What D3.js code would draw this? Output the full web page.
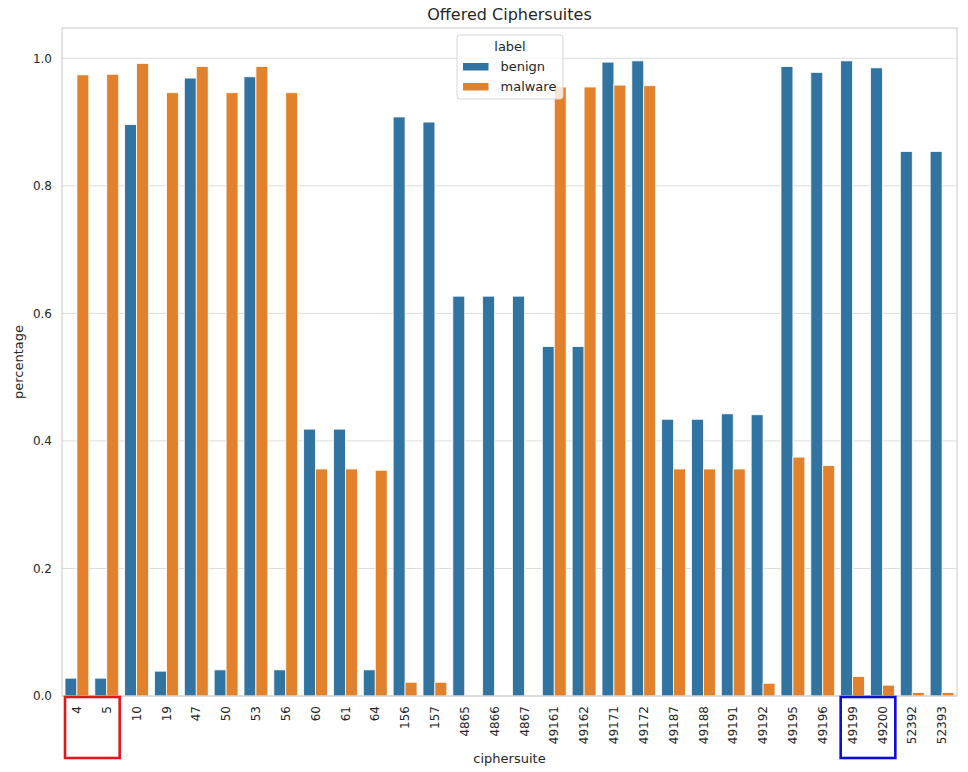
<!DOCTYPE html>
<html>
<head>
<meta charset="utf-8">
<script src="https://cdn.jsdelivr.net/npm/d3@7"></script>
<style>
  body { margin: 0; background: #fff; }
  svg { display: block; font-family: "DejaVu Sans", sans-serif; }
</style>
</head>
<body>
<svg id="chart" width="968" height="772"></svg>
<script>
const categories = ["4","5","10","19","47","50","53","56","60","61","64","156","157","4865","4866","4867","49161","49162","49171","49172","49187","49188","49191","49192","49195","49196","49199","49200","52392","52393"];
const benign  = [0.028,0.028,0.896,0.039,0.969,0.041,0.971,0.041,0.4185,0.4185,0.041,0.908,0.900,0.627,0.627,0.627,0.548,0.548,0.994,0.996,0.434,0.434,0.4425,0.441,0.987,0.978,0.996,0.985,0.854,0.854];
const malware = [0.974,0.975,0.992,0.946,0.987,0.946,0.987,0.946,0.356,0.356,0.354,0.0216,0.0216,0,0,0,0.955,0.955,0.958,0.957,0.356,0.356,0.356,0.020,0.3746,0.3615,0.0305,0.017,0.0055,0.0055];
const seriesNames = ["benign","malware"];
const seriesColors = ["#3274a1","#e1812c"];
const yTicks = [0.0,0.2,0.4,0.6,0.8,1.0];
const highlightRed = ["4","5"];
const highlightBlue = ["49199","49200"];

const svg = d3.select("#chart");
const L = 62, R = 957, T = 28, B = 696;
const textColor = "#262626";
const gridColor = "#dcdcdc";

const x = d3.scaleBand().domain(categories).range([L, R]).paddingInner(0).paddingOuter(0);
const y = d3.scaleLinear().domain([0, 1.0475]).range([B, T]);

// grid
svg.append("g").selectAll("line").data(yTicks).join("line")
  .attr("x1", L).attr("x2", R)
  .attr("y1", d => y(d)).attr("y2", d => y(d))
  .attr("stroke", gridColor).attr("stroke-width", 1);

// bars
const bw = x.bandwidth();
const groupW = bw * 0.8;
const barW = groupW / 2;
const series = [benign, malware];
series.forEach((vals, si) => {
  svg.append("g").selectAll("rect").data(categories).join("rect")
    .attr("x", (c) => x(c) + bw * 0.1 + si * barW)
    .attr("width", barW)
    .attr("y", (c, i) => y(vals[i]))
    .attr("height", (c, i) => B - y(vals[i]))
    .attr("fill", seriesColors[si])
    .attr("stroke", "#ffffff")
    .attr("stroke-width", 0.8);
});

// spines
svg.append("rect").attr("x", L).attr("y", T).attr("width", R - L).attr("height", B - T)
  .attr("fill", "none").attr("stroke", "#cccccc").attr("stroke-width", 1.1);

// y axis labels
const yAxis = d3.axisLeft(y).tickValues(yTicks).tickFormat(d3.format(".1f")).tickSize(0).tickPadding(10);
const yg = svg.append("g").attr("transform", `translate(${L},0)`).call(yAxis);
yg.select(".domain").remove();
yg.selectAll("text").attr("font-size", 12).attr("fill", textColor).attr("font-family", "DejaVu Sans");

// x axis labels
const xAxis = d3.axisBottom(x).tickSize(0).tickPadding(0);
const xg = svg.append("g").attr("transform", `translate(0,${B})`).call(xAxis);
xg.select(".domain").remove();
xg.selectAll("text")
  .attr("font-size", 12).attr("fill", textColor).attr("font-family", "DejaVu Sans")
  .attr("text-anchor", "end")
  .attr("transform", "rotate(-90)")
  .attr("x", -10).attr("y", 0).attr("dy", "0.35em");

// axis titles
svg.append("text").attr("x", (L + R) / 2).attr("y", 763).attr("text-anchor", "middle")
  .attr("font-size", 13).attr("fill", textColor).text("ciphersuite");
svg.append("text").attr("transform", `translate(23,${(T + B) / 2}) rotate(-90)`).attr("text-anchor", "middle")
  .attr("font-size", 13).attr("fill", textColor).text("percentage");
svg.append("text").attr("x", (L + R) / 2).attr("y", 20).attr("text-anchor", "middle")
  .attr("font-size", 16).attr("fill", textColor).text("Offered Ciphersuites");

// legend
const lg = svg.append("g");
lg.append("rect").attr("x", 457).attr("y", 35).attr("width", 106).attr("height", 64).attr("rx", 3)
  .attr("fill", "#ffffff").attr("fill-opacity", 0.8).attr("stroke", "#d6d6d6").attr("stroke-width", 1);
lg.append("text").attr("x", 510).attr("y", 51).attr("text-anchor", "middle")
  .attr("font-size", 13).attr("fill", textColor).text("label");
seriesNames.forEach((name, i) => {
  const yy = 71 + i * 20;
  lg.append("rect").attr("x", 463).attr("y", yy - 8).attr("width", 25.5).attr("height", 7.5)
    .attr("fill", seriesColors[i]);
  lg.append("text").attr("x", 500.5).attr("y", yy).attr("font-size", 13).attr("fill", textColor).text(name);
});

// highlight boxes
function box(cats, color) {
  const x0 = x(cats[0]) + 3;
  const x1 = x(cats[cats.length - 1]) + bw - 2;
  svg.append("rect").attr("x", x0).attr("y", 697).attr("width", x1 - x0).attr("height", 61)
    .attr("fill", "none").attr("stroke", color).attr("stroke-width", 2.6);
}
box(highlightRed, "#e4161b");
box(highlightBlue, "#0b0bd6");
</script>
</body>
</html>
